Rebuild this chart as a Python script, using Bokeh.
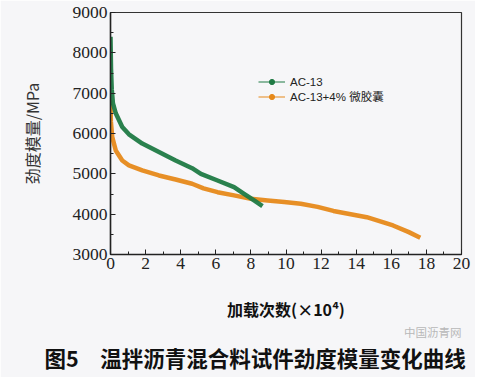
from bokeh.plotting import figure
from bokeh.models import (Range1d, Legend, LegendItem, FixedTicker, Title)
from bokeh.embed import file_html
from bokeh.resources import INLINE

NAN = float("nan")

# ---- data (loading cycles x10^4, stiffness modulus MPa) ----
ac13_x = [0.0, 0.03, 0.07, 0.14, 0.3, 0.67, 1.05, 1.81, 2.76, 3.71, 4.65,
          5.15, 6.1, 7.04, 7.61, 8.18, 8.66]
ac13_y = [8400, 7600, 7100, 6745, 6500, 6160, 5980, 5750, 5540, 5330, 5140,
          5000, 4835, 4670, 4505, 4340, 4200]

mc_x = [0.0, 0.02, 0.1, 0.3, 0.67, 1.05, 1.81, 2.76, 3.71, 4.65, 5.3, 6.1,
        7.04, 8.0, 8.95, 9.9, 10.84, 11.8, 12.7, 14.6, 16.1, 17.0, 17.65]
mc_y = [6820, 6300, 5910, 5580, 5330, 5210, 5085, 4960, 4860, 4755, 4640,
        4545, 4465, 4380, 4340, 4300, 4260, 4180, 4080, 3925, 3720, 3555, 3415]

series_names = ["AC-13", "AC-13+4% 微胶囊"]
x_ticks = [0, 2, 4, 6, 8, 10, 12, 14, 16, 18, 20]
y_ticks = [3000, 4000, 5000, 6000, 7000, 8000, 9000]

GREEN = "#1f7a44"
ORANGE = "#e6891a"
BG = "#f6f6f8"

p = figure(width=475, height=377, output_backend="svg", toolbar_location=None,
           x_range=Range1d(0, 20), y_range=Range1d(3000, 9000),
           min_border_left=110, min_border_right=14, min_border_top=12,
           min_border_bottom=123)
p.background_fill_color = BG
p.border_fill_color = BG
p.outline_line_color = "#333333"
p.outline_line_width = 1.2
p.grid.visible = False

r_mc = p.line(mc_x, mc_y, line_color=ORANGE, line_width=4.5, line_alpha=0.95)
r_ac = p.line(ac13_x, ac13_y, line_color=GREEN, line_width=4.5, line_alpha=0.95)
# thin legend glyphs (line + small dot), no visible data
l_ac = p.line(x=[NAN], y=[NAN], line_color=GREEN, line_width=1)
d_ac = p.scatter(x=[NAN], y=[NAN], size=3, color=GREEN)
l_mc = p.line(x=[NAN], y=[NAN], line_color=ORANGE, line_width=1)
d_mc = p.scatter(x=[NAN], y=[NAN], size=3, color=ORANGE)

legend = Legend(items=[LegendItem(label=series_names[0], renderers=[l_ac, d_ac]),
                       LegendItem(label=series_names[1], renderers=[l_mc, d_mc])],
                location=(148, 150), orientation="vertical",
                background_fill_alpha=0, border_line_alpha=0,
                glyph_width=27, glyph_height=13, label_height=13,
                spacing=0, padding=0, margin=0, label_standoff=5,
                label_text_font="Liberation Sans, Noto Sans CJK SC",
                label_text_font_size="11.5px", label_text_color="#222222")
p.add_layout(legend)

for ax in (p.xaxis[0], p.yaxis[0]):
    ax.axis_line_color = "#222222"
    ax.axis_line_width = 1.5
    ax.major_tick_in = 5
    ax.major_tick_out = 0
    ax.minor_tick_in = 3
    ax.minor_tick_out = 0
    ax.major_tick_line_color = "#222222"
    ax.minor_tick_line_color = "#222222"
    ax.major_label_text_font = "Liberation Serif"
    ax.major_label_text_font_size = "17.5px"
    ax.major_label_text_color = "#222222"
    ax.major_label_standoff = 3

p.xaxis.ticker = FixedTicker(ticks=x_ticks, minor_ticks=list(range(0, 21)))
p.yaxis.ticker = FixedTicker(ticks=y_ticks,
                             minor_ticks=list(range(3000, 9001, 500)))

p.yaxis.axis_label = "劲度模量/MPa"
p.yaxis.axis_label_text_font = "Noto Sans CJK SC"
p.yaxis.axis_label_text_font_size = "16px"
p.yaxis.axis_label_text_font_style = "normal"
p.yaxis.axis_label_text_color = "#333333"
p.yaxis.axis_label_standoff = 26

p.xaxis.axis_label = "加载次数(×10⁴)"
p.xaxis.axis_label_text_font = "Noto Sans CJK SC"
p.xaxis.axis_label_text_font_size = "16px"
p.xaxis.axis_label_text_font_style = "bold"
p.xaxis.axis_label_text_color = "#111111"
p.xaxis.axis_label_standoff = 25

wm = Title(text="中国沥青网", align="right", text_font="Noto Sans CJK SC",
           text_font_size="11.5px", text_font_style="normal",
           text_color="#b8b8b8", standoff=0, offset=0, vertical_align="top")
p.add_layout(wm, "below")

cap = Title(text="图5　温拌沥青混合料试件劲度模量变化曲线", align="left",
            text_font="Noto Sans CJK SC", text_font_size="21.5px",
            text_font_style="bold", text_color="#111111", offset=-66,
            standoff=0, vertical_align="top")
p.add_layout(cap, "below")

open("out.html", "w").write(file_html(p, INLINE))
